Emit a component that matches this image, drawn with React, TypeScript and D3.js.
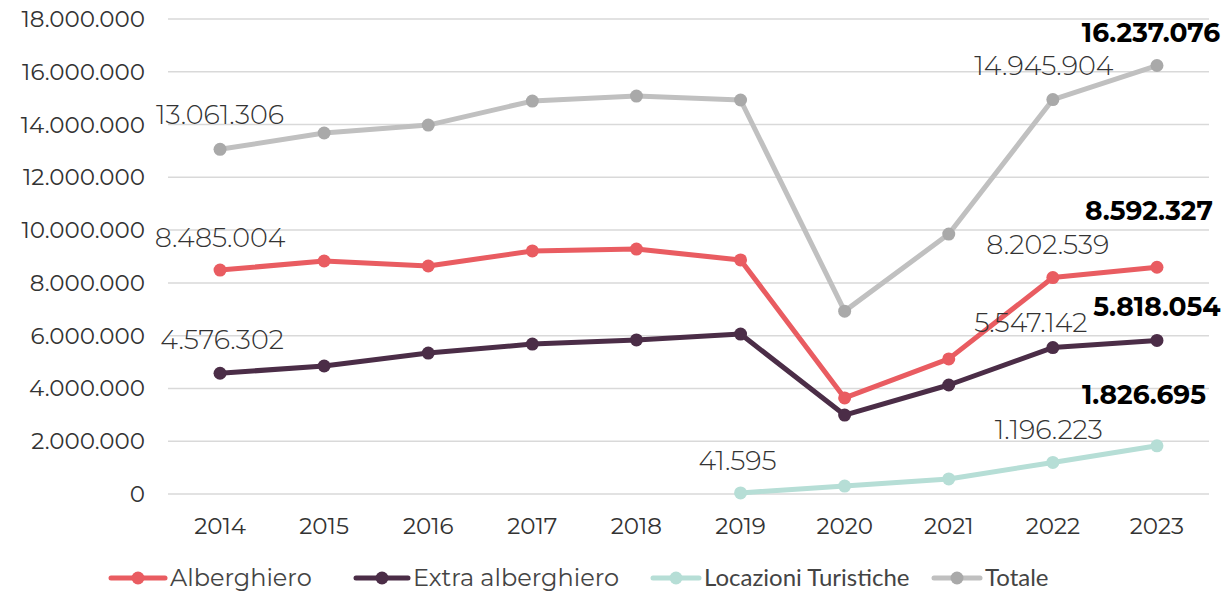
import React, { useRef, useEffect } from 'react';
import * as d3 from 'd3';

const W = 1230;
const H = 592;
const MARGIN = { top: 19, right: 21, bottom: 98, left: 168 };

const years = ['2014', '2015', '2016', '2017', '2018', '2019', '2020', '2021', '2022', '2023'];
const alberghiero = [8485004, 8830000, 8640000, 9210000, 9280000, 8870000, 3640000, 5120000, 8202539, 8592327];
const extraAlberghiero = [4576302, 4850000, 5340000, 5680000, 5840000, 6060000, 2990000, 4130000, 5547142, 5818054];
const locazioni = [null, null, null, null, null, 41595, 300000, 570000, 1196223, 1826695];
const totale = [13061306, 13680000, 13980000, 14890000, 15080000, 14930000, 6930000, 9850000, 14945904, 16237076];
const yTicks = [0, 2000000, 4000000, 6000000, 8000000, 10000000, 12000000, 14000000, 16000000, 18000000];

// which points carry a label: [index, bold, dx, offset above point]
const SERIES = [
  { name: 'Totale', values: totale, color: '#c0c0c0', dot: '#a9a9a9', labels: [[0, false, 0, 35], [8, false, -9, 34], [9, true, -6, 33]] },
  { name: 'Alberghiero', values: alberghiero, color: '#e95c61', dot: '#e95c61', labels: [[0, false, 0, 33], [8, false, -5, 33], [9, true, -8, 57]] },
  { name: 'Extra alberghiero', values: extraAlberghiero, color: '#4b2d47', dot: '#4b2d47', labels: [[0, false, 2, 34], [8, false, -22, 25], [9, true, 0, 34]] },
  { name: 'Locazioni Turistiche', values: locazioni, color: '#b6ded6', dot: '#b6ded6', labels: [[5, false, -3, 32], [8, false, -4, 33], [9, true, -13, 51]] },
];
const LEGEND = [
  { name: 'Alberghiero', color: '#e95c61', dot: '#e95c61', x: 111, len: 54, font: 'Montserrat, sans-serif', size: 24, weight: 400 },
  { name: 'Extra alberghiero', color: '#4b2d47', dot: '#4b2d47', x: 356, len: 52, font: 'Montserrat, sans-serif', size: 24, weight: 400 },
  { name: 'Locazioni Turistiche', color: '#b6ded6', dot: '#b6ded6', x: 653, len: 46, font: 'Lato, sans-serif', size: 24, weight: 400 },
  { name: 'Totale', color: '#c0c0c0', dot: '#a9a9a9', x: 934, len: 46, font: 'Lato, sans-serif', size: 24, weight: 400 },
];

const FONT = 'Montserrat, "DejaVu Sans", sans-serif';
const fmt = (v: number) => d3.format(',')(v).replace(/,/g, '.');

export default function App() {
  const svgRef = useRef<SVGSVGElement>(null);

  useEffect(() => {
    const svg = d3.select(svgRef.current);
    svg.selectAll('*').remove();
    const innerW = W - MARGIN.left - MARGIN.right;
    const innerH = H - MARGIN.top - MARGIN.bottom;

    const x = d3.scalePoint().domain(years).range([0, innerW]).padding(0.5);
    const y = d3.scaleLinear().domain([0, 18000000]).range([innerH, 0]);

    const g = svg.append('g').attr('transform', `translate(${MARGIN.left},${MARGIN.top})`);

    // Grid
    g.append('g').selectAll('line')
      .data(yTicks)
      .join('line')
      .attr('x1', 0).attr('x2', innerW)
      .attr('y1', d => y(d)).attr('y2', d => y(d))
      .attr('stroke', '#d9d9d9').attr('stroke-width', 1.5);

    // Y labels
    g.append('g').selectAll('text')
      .data(yTicks)
      .join('text')
      .attr('x', -23).attr('y', d => y(d))
      .attr('dy', '0.35em')
      .attr('text-anchor', 'end')
      .attr('font-size', 23).attr('fill', '#333')
      .text(d => fmt(d));

    // X labels
    g.append('g').selectAll('text')
      .data(years)
      .join('text')
      .attr('x', d => x(d)!).attr('y', innerH + 32)
      .attr('dy', '0.35em')
      .attr('text-anchor', 'middle')
      .attr('font-size', 23).attr('fill', '#333')
      .text(d => d);

    const line = d3.line<number | null>()
      .defined(d => d != null)
      .x((_, i) => x(years[i])!)
      .y(d => y(d as number));

    SERIES.forEach(s => {
      g.append('path')
        .datum(s.values)
        .attr('d', line)
        .attr('fill', 'none')
        .attr('stroke', s.color)
        .attr('stroke-width', 5)
        .attr('stroke-linejoin', 'round');

      g.append('g').selectAll('circle')
        .data(s.values.map((v, i) => ({ v, i })).filter(d => d.v != null))
        .join('circle')
        .attr('cx', d => x(years[d.i])!)
        .attr('cy', d => y(d.v as number))
        .attr('r', 6.5)
        .attr('fill', s.dot);
    });

    // Data labels
    SERIES.forEach(s => {
      s.labels.forEach(([i, bold, dx, up]) => {
        const v = s.values[i as number] as number;
        g.append('text')
          .attr('x', x(years[i as number])! + (dx as number))
          .attr('y', y(v) - (up as number))
          .attr('dy', '0.35em')
          .attr('text-anchor', 'middle')
          .attr('font-size', bold ? 26.5 : 27)
          .attr('font-weight', bold ? 700 : 300)
          .attr('fill', bold ? '#000' : '#333')
          .text(fmt(v));
      });
    });

    // Legend
    const lg = svg.append('g').attr('transform', `translate(0,578)`);
    LEGEND.forEach(l => {
      lg.append('line')
        .attr('x1', l.x).attr('x2', l.x + l.len)
        .attr('y1', 0).attr('y2', 0)
        .attr('stroke', l.color).attr('stroke-width', 5).attr('stroke-linecap', 'round');
      lg.append('circle').attr('cx', l.x + l.len / 2).attr('cy', 0).attr('r', 6.5).attr('fill', l.dot);
      lg.append('text')
        .attr('x', l.x + l.len + 5).attr('y', 0).attr('dy', '0.35em')
        .attr('font-family', l.font)
        .attr('font-weight', l.weight)
        .attr('font-size', l.size).attr('fill', '#444')
        .text(l.name);
    });
  }, []);

  return (
    <svg ref={svgRef} width={W} height={H}
      style={{ position: 'absolute', left: 0, top: 0, fontFamily: FONT, background: '#fff' }} />
  );
}
